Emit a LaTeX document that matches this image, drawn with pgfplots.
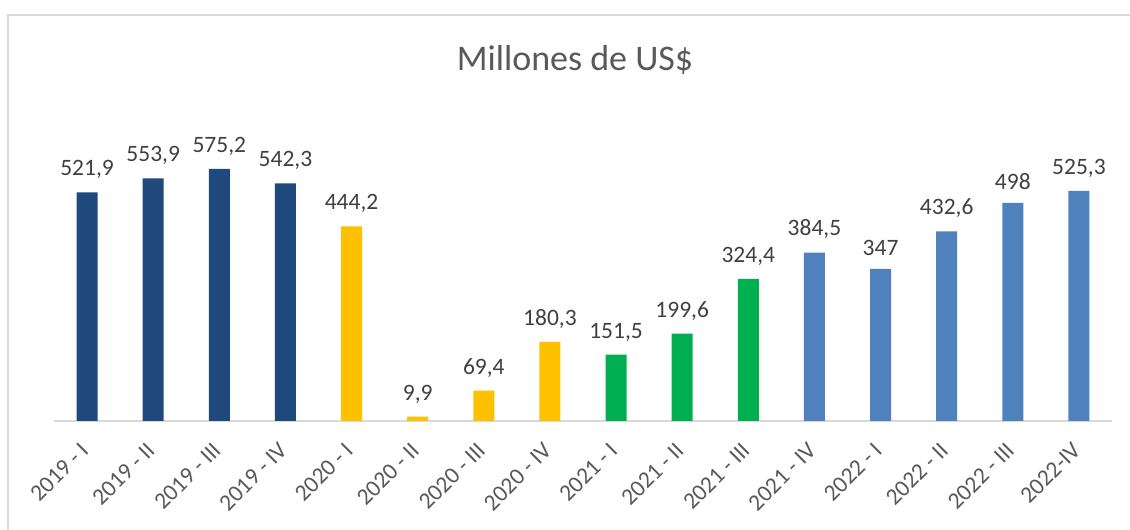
\documentclass[border=0pt]{standalone}
\usepackage{pgfplots}
\pgfplotsset{compat=1.18}
\usepackage{fontspec}
\setmainfont{Carlito}
\definecolor{dblue}{HTML}{1F497D}
\definecolor{yel}{HTML}{FFC000}
\definecolor{grn}{HTML}{00B050}
\definecolor{lblue}{HTML}{4F81BD}
\definecolor{axgray}{HTML}{D9D9D9}
\definecolor{txtgray}{HTML}{595959}
\definecolor{lblgray}{HTML}{404040}

\begin{document}
\begin{tikzpicture}[x=1pt,y=1pt]
\useasboundingbox (0,0) rectangle (1130,530);
% chart frame
\draw[axgray, line width=2pt] (8,0) -- (8,515) -- (1130,515);
\node[txtgray, font=\fontsize{36}{40}\selectfont] at (575,470) {Millones de US\$};
\begin{axis}[
    at={(54pt,109pt)}, anchor=south west,
    scale only axis,
    width=1058pt, height=262.9pt,
    xmin=-0.5, xmax=15.5,
    ymin=0, ymax=600,
    clip=false,
    axis x line=bottom,
    axis y line=none,
    x axis line style={draw=axgray, line width=1.5pt, -},
    ytick=\empty,
    xtick={0,...,15},
    xticklabels={2019 - I, 2019 - II, 2019 - III, 2019 - IV, 2020 - I, 2020 - II, 2020 - III, 2020 - IV, 2021 - I, 2021 - II, 2021 - III, 2021 - IV, 2022 - I, 2022 - II, 2022 - III, 2022-IV},
    xtick style={draw=none},
    xticklabel style={rotate=45, anchor=east, text=txtgray, font=\fontsize{23.5}{27}\selectfont},
    xticklabel shift=19pt,
    ybar, bar width=21pt,
    nodes near coords={\pgfmathprintnumber[use comma,fixed,precision=1,assume math mode=true]{\pgfplotspointmeta}},
    every node near coord/.append style={text=lblgray, font=\fontsize{23.5}{27}\selectfont, yshift=10pt},
]
\addplot[fill=dblue, draw=none, bar shift=0pt] coordinates {(0,521.9) (1,553.9) (2,575.2) (3,542.3)};
\addplot[fill=yel, draw=none, bar shift=0pt] coordinates {(4,444.2) (5,9.9) (6,69.4) (7,180.3)};
\addplot[fill=grn, draw=none, bar shift=0pt] coordinates {(8,151.5) (9,199.6) (10,324.4)};
\addplot[fill=lblue, draw=none, bar shift=0pt] coordinates {(11,384.5) (12,347) (13,432.6) (14,498) (15,525.3)};
\end{axis}
\end{tikzpicture}
\end{document}
